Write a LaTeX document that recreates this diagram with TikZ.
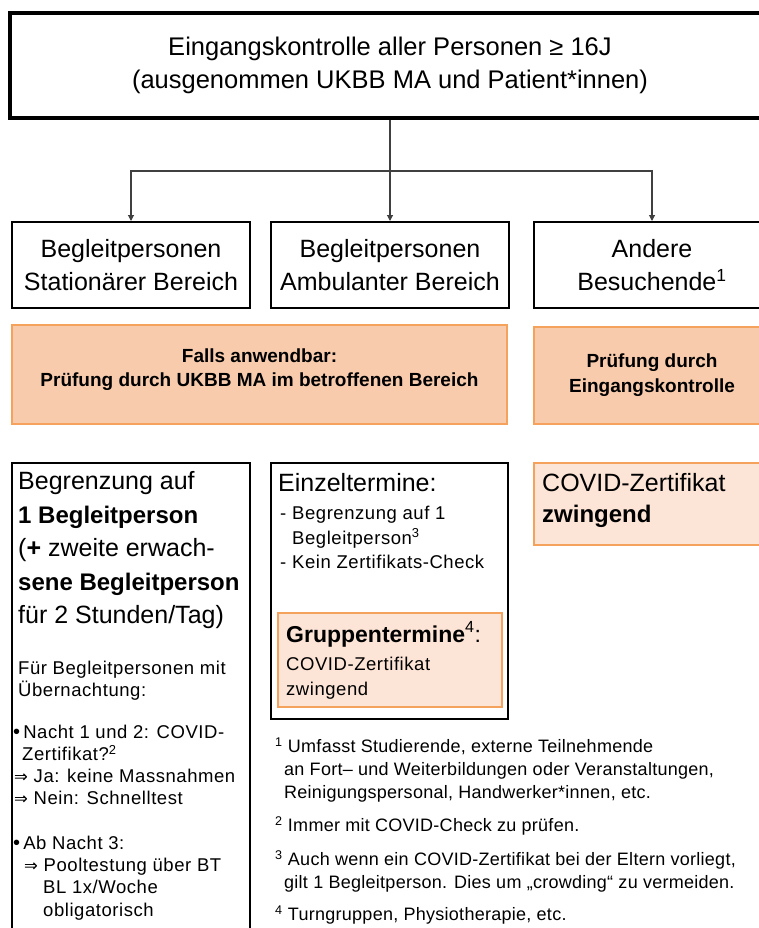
\documentclass[tikz,border=0pt]{standalone}
\usepackage{fontspec}
\setmainfont{Liberation Sans}
\newfontfamily\smallf[LetterSpace=3]{Liberation Sans}
\newfontfamily\footf[LetterSpace=1.5]{Liberation Sans}
\newfontfamily\dvs{DejaVu Sans}
\usetikzlibrary{arrows.meta}
\definecolor{orline}{HTML}{F5A35C}
\definecolor{orfill}{HTML}{F8CBAD}
\definecolor{ltfill}{HTML}{FCE4D6}
\definecolor{conncol}{HTML}{404040}
\newcommand\fbig{\fontsize{25}{33}\selectfont}
\newcommand\fsm{\smallf\fontsize{18.5}{22}\selectfont}
\newcommand\ffn{\footf\fontsize{18}{22}\selectfont}
\newcommand\darr{{\dvs\fontsize{16.5}{16}\selectfont ⇒}}
\newcommand\bul{{\fontsize{20}{20}\selectfont •}}
\tikzset{
  box/.style={draw=black, line width=2pt, inner sep=0pt, align=center},
  obox/.style={draw=orline, line width=1.5pt, fill=orfill, inner sep=0pt, align=center},
  lbox/.style={draw=orline, line width=1.5pt, fill=ltfill, inner sep=0pt},
  ln/.style={anchor=base west, inner sep=0pt},
  arr/.style={draw=conncol, line width=1.1pt, -{Triangle[width=6pt,length=6pt]}},
  link/.style={draw=conncol, line width=1.1pt}
}
\begin{document}
\begin{tikzpicture}[x=1pt,y=-1pt]
\fill[white] (0,0) rectangle (758,928);
\useasboundingbox (0,0) rectangle (758,928);

% top box
\node[box, line width=3.5pt, minimum width=760pt, minimum height=105pt, font=\fontsize{25.5}{33}\selectfont] (top) at (390,65.5)
  {Eingangskontrolle aller Personen ≥ 16J\\(ausgenommen UKBB MA und Patient*innen)};

% row 2
\node[box, minimum width=238pt, minimum height=86pt, font=\fbig] (b1) at (131,265) {Begleitpersonen\\Stationärer Bereich};
\node[box, minimum width=238pt, minimum height=86pt, font=\fbig] (b2) at (390,265) {Begleitpersonen\\Ambulanter Bereich};
\node[box, minimum width=236pt, minimum height=86pt, font=\fbig] (b3) at (652,265) {Andere\\Besuchende\textsuperscript{1}};

% connectors
\coordinate (j) at (390,171);
\draw[link] (top.south) -- (j);
\draw[arr] (j) -| (b1.north);
\draw[arr] (j) -- (b2.north);
\draw[arr] (j) -| (b3.north);

% orange row
\node[obox, minimum width=495pt, minimum height=99pt, font=\bfseries\fontsize{19}{23.5}\selectfont, text depth=14pt] (o1) at (259.5,374.5)
  {Falls anwendbar:\\Prüfung durch UKBB MA im betroffenen Bereich};
\node[obox, minimum width=236pt, minimum height=97pt, font=\bfseries\fontsize{19}{25}\selectfont] (o2) at (652,375.5)
  {Prüfung durch\\Eingangskontrolle};

% left tall box
\node[box, minimum width=238pt, minimum height=477pt] (L) at (131,701.5) {};
\node[ln, font=\fbig] (l1) at (18,489) {Begrenzung auf};
\node[ln, font=\fbig] (l2) at (18,523) {\fontsize{24}{30}\selectfont\bfseries 1 Begleitperson};
\node[ln, font=\fbig] (l3) at (18,556) {(\textbf{+} zweite erwach-};
\node[ln, font=\fbig] (l4) at (18,590) {\fontsize{24}{30}\selectfont\bfseries sene Begleitperson};
\node[ln, font=\fbig] (l5) at (18,623) {für 2 Stunden/Tag)};
\node[ln, font=\fsm] (s1) at (18,674.5) {Für Begleitpersonen mit};
\node[ln, font=\fsm] (s2) at (18,696.5) {Übernachtung:};
\node[ln, font=\fsm] (s3) at (13,738.5) {\bul\,Nacht 1 und 2: COVID-};
\node[ln, font=\fsm] (s4) at (22,760.5) {Zertifikat?\textsuperscript{2}};
\node[ln, font=\fsm] (s5) at (14,782.5) {\darr\ Ja: keine Massnahmen};
\node[ln, font=\fsm] (s6) at (14,804.5) {\darr\ Nein: Schnelltest};
\node[ln, font=\fsm] (s7) at (13,849.5) {\bul\,Ab Nacht 3:};
\node[ln, font=\fsm] (s8) at (24,871.5) {\darr\ Pooltestung über BT};
\node[ln, font=\fsm] (s9) at (43,893.5) {BL 1x/Woche};
\node[ln, font=\fsm] (s10) at (43,916.5) {obligatorisch};

% middle box
\node[box, line width=2.5pt, minimum width=237pt, minimum height=256pt] (M) at (389.5,591) {};
\node[ln, font=\fbig] (m1) at (278,491) {Einzeltermine:};
\node[ln, font=\fsm] (m2) at (280,519) {-};
\node[ln, font=\fsm] (m3) at (292,519) {Begrenzung auf 1};
\node[ln, font=\fsm] (m4) at (292,544) {Begleitperson\textsuperscript{3}};
\node[ln, font=\fsm] (m5) at (280,568) {-};
\node[ln, font=\fsm] (m6) at (292,568) {Kein Zertifikats-Check};

\node[lbox, minimum width=224pt, minimum height=94pt] (G) at (390,660) {};
\node[ln, font=\bfseries\fontsize{23}{28}\selectfont] (g1) at (286,642) {Gruppentermine{\mdseries\textsuperscript{4}:}};
\node[ln, font=\fsm] (g2) at (286,670) {COVID-Zertifikat};
\node[ln, font=\fsm] (g3) at (286,695) {zwingend};

% right covid box
\node[lbox, minimum width=236pt, minimum height=82pt] (C) at (652,504) {};
\node[ln, font=\fbig] (c1) at (542,491) {COVID-Zertifikat};
\node[ln, font=\bfseries\fontsize{24}{30}\selectfont] (c2) at (542,522) {zwingend};

% footnotes
\node[ln, font=\ffn] (f1) at (275,752.5) {\textsuperscript{1} Umfasst Studierende, externe Teilnehmende};
\node[ln, font=\ffn] (f2) at (284,775.5) {an Fort– und Weiterbildungen oder Veranstaltungen,};
\node[ln, font=\ffn] (f3) at (284,798.5) {Reinigungspersonal, Handwerker*innen, etc.};
\node[ln, font=\ffn] (f4) at (275,831.5) {\textsuperscript{2} Immer mit COVID-Check zu prüfen.};
\node[ln, font=\ffn] (f5) at (275,865.5) {\textsuperscript{3} Auch wenn ein COVID-Zertifikat bei der Eltern vorliegt,};
\node[ln, font=\ffn] (f6) at (284,888.5) {gilt 1 Begleitperson. Dies um „crowding“ zu vermeiden.};
\node[ln, font=\ffn] (f7) at (275,920.5) {\textsuperscript{4} Turngruppen, Physiotherapie, etc.};
\end{tikzpicture}
\end{document}
